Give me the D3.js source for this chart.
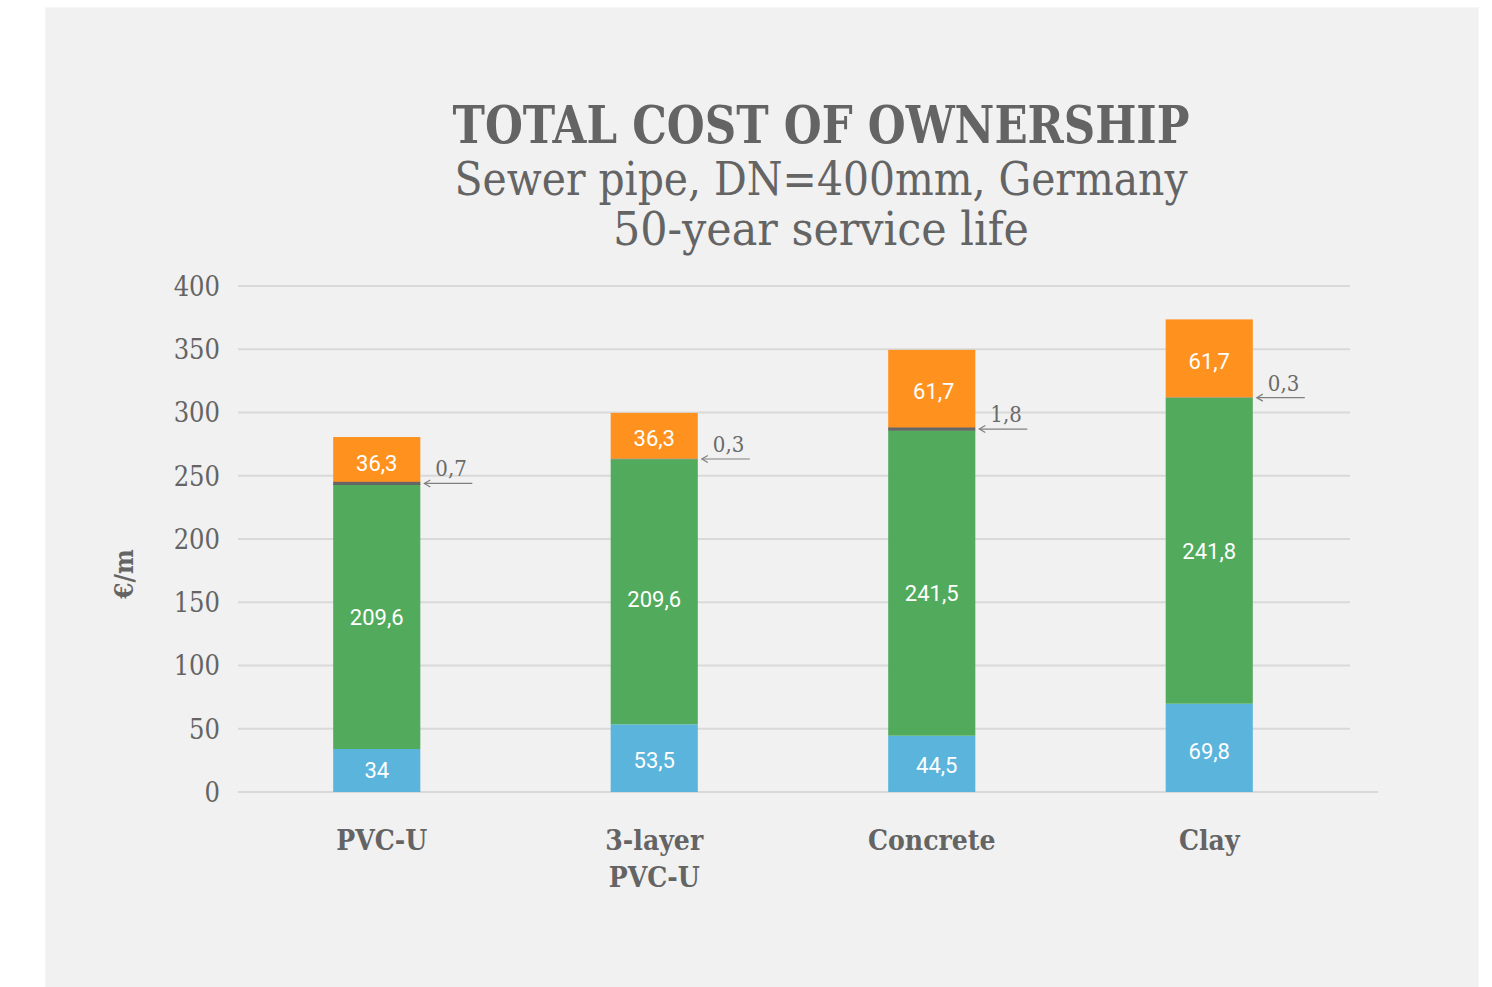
<!DOCTYPE html>
<html><head><meta charset="utf-8">
<script src="https://cdn.jsdelivr.net/npm/d3@7"></script>
<style>
html,body{margin:0;padding:0;background:#fff;}
svg{display:block;}
</style></head>
<body>
<svg id="chart" width="1492" height="987"></svg>
<script>
const categories = [["PVC-U"], ["3-layer", "PVC-U"], ["Concrete"], ["Clay"]];
const catKeys = ["PVC-U", "3-layer PVC-U", "Concrete", "Clay"];
const seriesNames = ["s1", "s2", "s3", "s4"];
const s1 = [34, 53.5, 44.5, 69.8];
const s2 = [209.6, 209.6, 241.5, 241.8];
const s3 = [0.7, 0.3, 1.8, 0.3];
const s4 = [36.3, 36.3, 61.7, 61.7];
const s1Labels = ["34", "53,5", "44,5", "69,8"];
const s2Labels = ["209,6", "209,6", "241,5", "241,8"];
const s3Labels = ["0,7", "0,3", "1,8", "0,3"];
const s4Labels = ["36,3", "36,3", "61,7", "61,7"];
const yTicks = [0, 50, 100, 150, 200, 250, 300, 350, 400];
const colors = ["#5BB4DC", "#52AB5C", "#666666", "#FF921F"];

// label nudges (pixels), layout only
const nudge1 = [[0, 0], [0, 2], [5, 1], [0, 3]];
const nudge2 = [[0, 1], [0, 7], [0, 10], [0, 0]];
const nudge4 = [[0, 3], [0, 2], [2, 2], [0, 3]];

const slab = "'DejaVu Serif Condensed','DejaVu Serif',serif";
const sans = "Roboto, 'Noto Sans', sans-serif";
const txt = "#646464";

const svg = d3.select("#chart");
svg.append("rect").attr("x", 45.5).attr("y", 7.5).attr("width", 1433).attr("height", 981)
  .attr("fill", "#f1f1f1").attr("stroke", "#f6f6f6").attr("stroke-width", 1);

const x = d3.scaleBand().domain(catKeys).range([238, 1348]).paddingInner(0.686).paddingOuter(0.343);
const y = d3.scaleLinear().domain([0, 400]).range([792, 286]);

// gridlines
svg.append("g").selectAll("line").data(yTicks.filter(d => d > 0)).join("line")
  .attr("x1", 238).attr("x2", 1350).attr("y1", d => y(d)).attr("y2", d => y(d))
  .attr("stroke", "#d9d9d9").attr("stroke-width", 2);
svg.append("line").attr("x1", 238).attr("x2", 1378).attr("y1", y(0)).attr("y2", y(0))
  .attr("stroke", "#d9d9d9").attr("stroke-width", 2);

// y axis labels
const yAxis = d3.axisLeft(y).tickValues(yTicks).tickSize(0).tickPadding(0).tickFormat(d3.format("d"));
const ya = svg.append("g").attr("transform", "translate(220,0)").call(yAxis);
ya.select(".domain").remove();
ya.selectAll("text").attr("font-family", slab).attr("font-size", 27).attr("fill", txt)
  .attr("dy", "0.35em");

// stacks
const table = catKeys.map((k, i) => ({key: k, s1: s1[i], s2: s2[i], s3: s3[i], s4: s4[i]}));
const stack = d3.stack().keys(seriesNames)(table);
const g = svg.append("g");
stack.forEach((layer, li) => {
  g.append("g").selectAll("rect").data(layer).join("rect")
    .attr("x", d => x(d.data.key)).attr("width", x.bandwidth())
    .attr("y", d => {
      const h = y(d[0]) - y(d[1]);
      if (li === 2 && d[1] - d[0] >= 0.5) return (y(d[0]) + y(d[1])) / 2 - 1.6;
      return y(d[1]);
    })
    .attr("height", d => {
      const h = y(d[0]) - y(d[1]);
      if (li === 2 && d[1] - d[0] >= 0.5) return Math.max(h, 3.2);
      return h;
    })
    .attr("fill", colors[li]);
});
// raise grey segment above neighbours
g.selectAll("g").filter((d, i) => i === 2).raise();

// inside labels
const inside = [[0, s1Labels, nudge1], [1, s2Labels, nudge2], [3, s4Labels, nudge4]];
inside.forEach(([li, labels, nud]) => {
  g.append("g").selectAll("text").data(stack[li]).join("text")
    .attr("x", (d, i) => x(d.data.key) + x.bandwidth() / 2 + nud[i][0])
    .attr("y", (d, i) => (y(d[0]) + y(d[1])) / 2 + nud[i][1])
    .attr("dy", "0.36em").attr("text-anchor", "middle")
    .attr("font-family", sans).attr("font-size", 22).attr("fill", "#fff")
    .text((d, i) => labels[i]);
});

// small annotations with arrows
const ann = svg.append("g");
stack[2].forEach((d, i) => {
  const yy = y((d[0] + d[1]) / 2);
  const x0 = x(d.data.key) + x.bandwidth() + 4;
  const x1 = x0 + 48;
  ann.append("line").attr("x1", x0).attr("x2", x1).attr("y1", yy).attr("y2", yy)
    .attr("stroke", "#808080").attr("stroke-width", 1.2);
  ann.append("path").attr("d", `M${x0 + 6},${yy - 3.5} L${x0},${yy} L${x0 + 6},${yy + 3.5}`)
    .attr("fill", "none").attr("stroke", "#808080").attr("stroke-width", 1.2);
  ann.append("text").attr("x", x0 + 11).attr("y", yy - 7)
    .attr("font-family", slab).attr("font-size", 22).attr("fill", "#6a6a6a")
    .text(s3Labels[i]);
});

// x labels
const xl = svg.append("g");
categories.forEach((lines, i) => {
  const cx = x(catKeys[i]) + x.bandwidth() / 2 + (i === 0 ? 5 : 0);
  const t = xl.append("text").attr("x", cx)
    .attr("y", 850).attr("text-anchor", "middle")
    .attr("font-family", slab).attr("font-weight", "bold").attr("font-size", 28).attr("fill", txt);
  lines.forEach((l, j) => t.append("tspan").attr("x", cx)
    .attr("dy", j === 0 ? 0 : 37).text(l));
});

// y title
svg.append("text").attr("transform", "translate(133,574) rotate(-90)")
  .attr("text-anchor", "middle").attr("font-family", slab).attr("font-weight", "bold")
  .attr("font-size", 26).attr("fill", txt).text("€/m");

// titles
const titles = [
  {t: "TOTAL COST OF OWNERSHIP", y: 143, size: 52, w: "bold", len: 737},
  {t: "Sewer pipe, DN=400mm, Germany", y: 195, size: 46, w: "normal", len: 733},
  {t: "50-year service life", y: 245, size: 46, w: "normal", len: 416}
];
titles.forEach(o => {
  const el = svg.append("text").attr("x", 821).attr("y", o.y).attr("text-anchor", "middle")
    .attr("font-family", slab).attr("font-weight", o.w).attr("font-size", o.size)
    .attr("fill", txt).text(o.t);
  const w = el.node().getComputedTextLength();
  if (Math.abs(w - o.len) > 4) el.attr("textLength", o.len).attr("lengthAdjust", "spacingAndGlyphs");
});
</script>
</body></html>
